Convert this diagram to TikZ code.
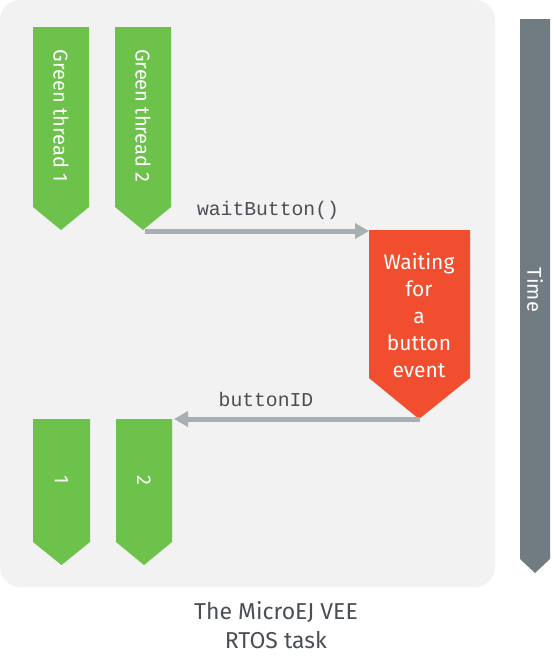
\documentclass[tikz,border=0pt]{standalone}
\usepackage{fontspec}
\setmainfont{Fira Sans}
\setmonofont{Liberation Mono}
\usetikzlibrary{arrows.meta}
\definecolor{bggray}{HTML}{F2F2F2}
\definecolor{thgreen}{HTML}{6CC24A}
\definecolor{waitred}{HTML}{F04E2F}
\definecolor{timegray}{HTML}{717C82}
\definecolor{arrowgray}{HTML}{A8AFB2}
\definecolor{txtdark}{HTML}{4A4F55}
\tikzset{
  barlabel/.style={text=white,rotate=-90,font=\fontsize{20}{24}\selectfont,inner sep=0pt},
  codelabel/.style={text=txtdark,font=\ttfamily\fontsize{19.7}{24}\selectfont,inner sep=0pt},
  callarrow/.style={draw=arrowgray,line width=5pt,-{Triangle[length=14pt,width=15pt]}},
}
\begin{document}
\begin{tikzpicture}[x=1pt,y=-1pt]
\useasboundingbox (0,0) rectangle (554,672);
% task background
\fill[bggray,rounded corners=20pt] (0,0) rectangle (495,587);
% time bar
\fill[timegray] (520,19) -- (550,19) -- (550,559) -- (535,573) -- (520,559) -- cycle;
\node[barlabel] (time) at (535,290) {Time};
% green threads (top)
\fill[thgreen] (33,27) -- (89,27) -- (89,207) -- (61,230) -- (33,207) -- cycle;
\fill[thgreen] (115,27) -- (171,27) -- (171,207) -- (143,230) -- (115,207) -- cycle;
\node[barlabel] (g1) at (61,116) {Green thread 1};
\node[barlabel] (g2) at (143,116) {Green thread 2};
\coordinate (g2tip) at (145,231);
% waiting box
\fill[waitred] (369,230) -- (470,230) -- (470,378) -- (419,419) -- (369,378) -- cycle;
\node[text=white,align=center,font=\fontsize{21}{27}\selectfont,inner sep=0pt] (wait) at (419,315) {Waiting\\for\\a\\button\\event};
\coordinate (waitin) at (369,231);
\coordinate (waittip) at (420,419);
% green threads (bottom)
\fill[thgreen] (33,419) -- (90,419) -- (90,542) -- (61.5,565) -- (33,542) -- cycle;
\fill[thgreen] (116,419) -- (172,419) -- (172,542) -- (144,565) -- (116,542) -- cycle;
\node[barlabel] (b1) at (61.5,480) {1};
\node[barlabel] (b2) at (144,480) {2};
\coordinate (b2in) at (174,419);
% calls
\draw[callarrow] (g2tip) -- (waitin) node[midway,above=9pt,codelabel,xshift=11pt] (wb) {waitButton()};
\draw[callarrow] (waittip) -- (b2in) node[midway,above=10pt,codelabel,xshift=-31pt] (bid) {buttonID};
% caption
\node[text=txtdark,align=center,font=\fontsize{23}{29}\selectfont,inner sep=0pt] (cap) at (276,625) {The MicroEJ VEE\\RTOS task};
\end{tikzpicture}
\end{document}
